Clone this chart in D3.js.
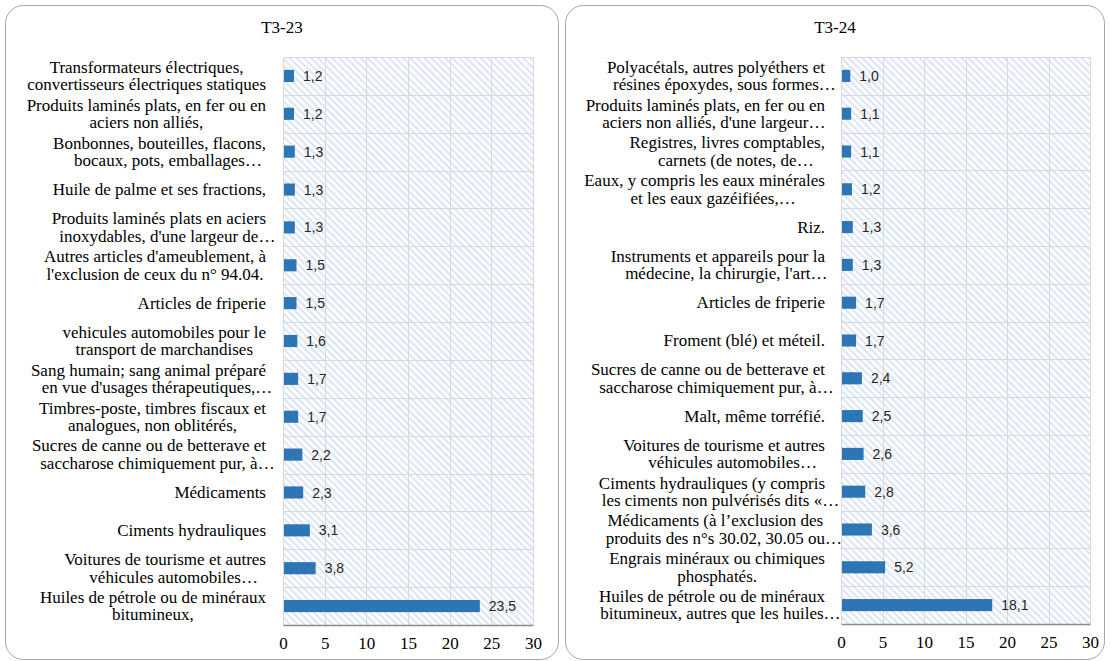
<!DOCTYPE html>
<html>
<head>
<meta charset="utf-8">
<script src="https://cdn.jsdelivr.net/npm/d3@7"></script>
<style>
  body { margin: 0; background: #fff; }
  svg { display: block; }
</style>
</head>
<body>
<div id="chart"></div>
<script>
// T3-23 data (top to bottom)
var labels23 = [
  ["Transformateurs électriques,", "convertisseurs électriques statiques"],
  ["Produits laminés plats, en fer ou en", "aciers non alliés,"],
  ["Bonbonnes, bouteilles, flacons,", "bocaux, pots, emballages…"],
  ["Huile de palme et ses fractions,"],
  ["Produits laminés plats en aciers", "inoxydables, d'une largeur de…"],
  ["Autres articles d'ameublement, à", "l'exclusion de ceux du n° 94.04."],
  ["Articles de friperie"],
  ["vehicules automobiles pour le", "transport de marchandises"],
  ["Sang humain; sang animal préparé", "en vue d'usages thérapeutiques,…"],
  ["Timbres-poste, timbres fiscaux et", "analogues, non oblitérés,"],
  ["Sucres de canne ou de betterave et", "saccharose chimiquement pur, à…"],
  ["Médicaments"],
  ["Ciments hydrauliques"],
  ["Voitures de tourisme et autres", "véhicules automobiles…"],
  ["Huiles de pétrole ou de minéraux", "bitumineux,"]
];
var values23 = [1.2, 1.2, 1.3, 1.3, 1.3, 1.5, 1.5, 1.6, 1.7, 1.7, 2.2, 2.3, 3.1, 3.8, 23.5];

// T3-24 data
var labels24 = [
  ["Polyacétals, autres polyéthers et", "résines époxydes, sous formes…"],
  ["Produits laminés plats, en fer ou en", "aciers non alliés, d'une largeur…"],
  ["Registres, livres comptables,", "carnets (de notes, de…"],
  ["Eaux, y compris les eaux minérales", "et les eaux gazéifiées,…"],
  ["Riz."],
  ["Instruments et appareils pour la", "médecine, la chirurgie, l'art…"],
  ["Articles de friperie"],
  ["Froment (blé) et méteil."],
  ["Sucres de canne ou de betterave et", "saccharose chimiquement pur, à…"],
  ["Malt, même torréfié."],
  ["Voitures de tourisme et autres", "véhicules automobiles…"],
  ["Ciments hydrauliques (y compris", "les ciments non pulvérisés dits «…"],
  ["Médicaments (à l’exclusion des", "produits des n°s 30.02, 30.05 ou…"],
  ["Engrais minéraux ou chimiques", "phosphatés."],
  ["Huiles de pétrole ou de minéraux", "bitumineux, autres que les huiles…"]
];
var values24 = [1.0, 1.1, 1.1, 1.2, 1.3, 1.3, 1.7, 1.7, 2.4, 2.5, 2.6, 2.8, 3.6, 5.2, 18.1];

var xTicks = [0, 5, 10, 15, 20, 25, 30];

var W = 1110, H = 661;
var serif = "'Liberation Serif', 'Times New Roman', serif";
var sans = "'Liberation Sans', Arial, sans-serif";

var svg = d3.select("#chart").append("svg")
  .attr("width", W).attr("height", H);

// hatch pattern
var defs = svg.append("defs");
var pat = defs.append("pattern")
  .attr("id", "hatch")
  .attr("patternUnits", "userSpaceOnUse")
  .attr("width", 5).attr("height", 5)
  .attr("patternTransform", "rotate(45)");
pat.append("rect").attr("width", 5).attr("height", 5).attr("fill", "#fff");
pat.append("rect").attr("width", 5).attr("height", 2.2).attr("fill", "#dce6f4");

var fmt = d => d.toFixed(1).replace(".", ",");

var measure = document.createElement("canvas").getContext("2d");

function panel(opt) {
  var g = svg.append("g");

  g.append("rect")
    .attr("x", opt.box[0]).attr("y", opt.box[1])
    .attr("width", opt.box[2]).attr("height", opt.box[3])
    .attr("rx", 18).attr("ry", 18)
    .attr("fill", "#fff")
    .attr("stroke", "#a6a6a6").attr("stroke-width", 1);

  g.append("text")
    .attr("x", opt.box[0] + opt.box[2] / 2).attr("y", 33)
    .attr("text-anchor", "middle")
    .style("font-family", serif).style("font-size", "17px")
    .attr("fill", "#000")
    .text(opt.title);

  var x = d3.scaleLinear().domain([0, 30]).range([opt.left, opt.right]);
  var y = d3.scaleBand().domain(d3.range(opt.values.length))
    .range([opt.top, opt.bottom]).paddingInner(0.68).paddingOuter(0.34);
  var band = d3.scaleBand().domain(d3.range(opt.values.length))
    .range([opt.top, opt.bottom]);

  g.append("rect")
    .attr("x", opt.left).attr("y", opt.top)
    .attr("width", opt.right - opt.left).attr("height", opt.bottom - opt.top)
    .attr("fill", "url(#hatch)");

  // horizontal grid at band boundaries
  g.append("g").selectAll("line")
    .data(d3.range(opt.values.length))
    .join("line")
    .attr("x1", opt.left).attr("x2", opt.right)
    .attr("y1", d => Math.round(band(d)) + 0.5).attr("y2", d => Math.round(band(d)) + 0.5)
    .attr("stroke", "#d9d9d9").attr("stroke-width", 1);

  // vertical grid
  g.append("g").selectAll("line")
    .data(xTicks)
    .join("line")
    .attr("x1", d => Math.round(x(d)) + 0.5).attr("x2", d => Math.round(x(d)) + 0.5)
    .attr("y1", opt.top).attr("y2", opt.bottom)
    .attr("stroke", "#d9d9d9").attr("stroke-width", 1);

  // bars
  g.append("g").attr("fill", "#2e75b6")
    .selectAll("rect")
    .data(opt.values)
    .join("rect")
    .attr("x", x(0) + 1)
    .attr("y", (d, i) => y(i))
    .attr("width", d => x(d) - x(0))
    .attr("height", y.bandwidth());

  // value labels
  g.append("g").selectAll("text")
    .data(opt.values)
    .join("text")
    .attr("x", d => x(d) + 10)
    .attr("y", (d, i) => band(i) + band.bandwidth() / 2)
    .attr("dy", "0.36em")
    .style("font-family", sans).style("font-size", "14px")
    .attr("fill", "#262626")
    .text(fmt);

  // x axis
  var ax = g.append("g")
    .attr("transform", `translate(0,${opt.bottom})`)
    .call(d3.axisBottom(x).tickValues(xTicks).tickSize(0).tickPadding(12).tickFormat(d3.format("d")));
  ax.select(".domain").attr("stroke", "#8c8c8c").attr("stroke-width", 1.3);
  ax.selectAll("text")
    .style("font-family", serif).style("font-size", "17px").attr("fill", "#000");

  // category labels: lines centred on each other (trailing ellipsis hangs outside), block right-aligned
  measure.font = "17px 'Liberation Serif'";
  var lg = g.append("g");
  opt.labels.forEach(function (lines, i) {
    var widths = lines.map(ln => measure.measureText(ln.replace(/…$/, "")).width);
    var cx = opt.labelRight - d3.max(widths) / 2;
    var cy = band(i) + band.bandwidth() / 2;
    var lh = 17.5;
    var t = lg.append("text")
      .style("font-family", serif).style("font-size", "17px")
      .attr("fill", "#000");
    lines.forEach(function (ln, k) {
      t.append("tspan")
        .attr("x", cx - widths[k] / 2)
        .attr("y", cy + (k - (lines.length - 1) / 2) * lh)
        .attr("dy", "0.33em")
        .text(ln);
    });
  });
}

panel({
  box: [5.5, 5.5, 553, 654], title: "T3-23",
  left: 283, right: 533, top: 57, bottom: 625,
  labelRight: 266, labels: labels23, values: values23
});
panel({
  box: [565.5, 5.5, 539, 654], title: "T3-24",
  left: 841, right: 1090, top: 57, bottom: 624,
  labelRight: 825, labels: labels24, values: values24
});
</script>
</body>
</html>
